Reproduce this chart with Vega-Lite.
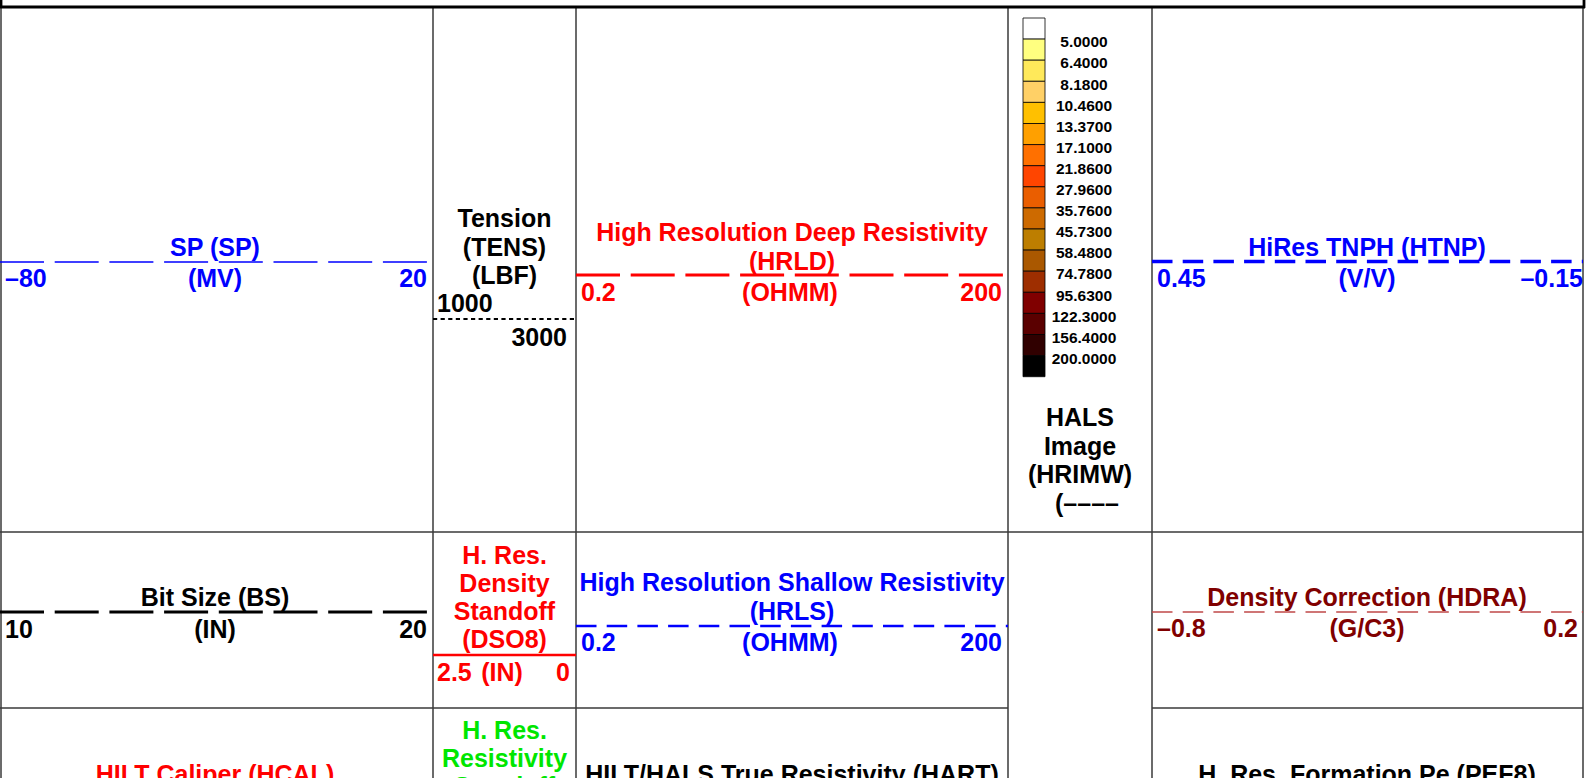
{
  "$schema": "https://vega.github.io/schema/vega-lite/v6.json",
  "width": 1596,
  "height": 778,
  "autosize": {"type": "fit", "contains": "padding"},
  "padding": 0,
  "background": "white",
  "config": {
    "view": {"stroke": null},
    "text": {"font": "Liberation Sans", "fontWeight": "bold", "fontSize": 25}
  },
  "resolve": {"scale": {"color": "independent"}},
  "datasets": {
    "grid": [
      {"x": 1, "x2": 1, "y": 0, "y2": 8, "kind": "frame"},
      {"x": 1584, "x2": 1584, "y": 0, "y2": 8, "kind": "frame"},
      {"x": 0, "x2": 1585, "y": 7, "y2": 7, "kind": "frame"},
      {"x": 1, "x2": 1, "y": 7, "y2": 778, "kind": "grid"},
      {"x": 433, "x2": 433, "y": 7, "y2": 778, "kind": "grid"},
      {"x": 576, "x2": 576, "y": 7, "y2": 778, "kind": "grid"},
      {"x": 1008, "x2": 1008, "y": 7, "y2": 778, "kind": "grid"},
      {"x": 1152, "x2": 1152, "y": 7, "y2": 778, "kind": "grid"},
      {"x": 1583, "x2": 1583, "y": 7, "y2": 778, "kind": "grid"},
      {"x": 0, "x2": 1583, "y": 532, "y2": 532, "kind": "grid"},
      {"x": 0, "x2": 1008, "y": 708, "y2": 708, "kind": "grid"},
      {"x": 1152, "x2": 1583, "y": 708, "y2": 708, "kind": "grid"}
    ],
    "curves": [
      {"curve": "SP", "x": 0, "x2": 428, "y": 262, "style": "longThin"},
      {"curve": "TENS", "x": 433, "x2": 576, "y": 319, "style": "dotted"},
      {"curve": "HRLD", "x": 576, "x2": 1004, "y": 275, "style": "longThick"},
      {"curve": "HTNP", "x": 1152, "x2": 1583, "y": 261.5, "style": "shortThick"},
      {"curve": "BS", "x": 0, "x2": 428, "y": 612, "style": "longThick"},
      {"curve": "DSO8", "x": 433, "x2": 576, "y": 655, "style": "solid"},
      {"curve": "HRLS", "x": 576, "x2": 1008, "y": 626, "style": "shortMid"},
      {"curve": "HDRA line", "x": 1152, "x2": 1583, "y": 612, "style": "shortThin"}
    ],
    "palette": [
      {"bin": 0, "top": 18, "bottom": 39.1, "label": ""},
      {"bin": 1, "top": 39.1, "bottom": 60.2, "label": "5.0000"},
      {"bin": 2, "top": 60.2, "bottom": 81.3, "label": "6.4000"},
      {"bin": 3, "top": 81.3, "bottom": 102.4, "label": "8.1800"},
      {"bin": 4, "top": 102.4, "bottom": 123.5, "label": "10.4600"},
      {"bin": 5, "top": 123.5, "bottom": 144.6, "label": "13.3700"},
      {"bin": 6, "top": 144.6, "bottom": 165.7, "label": "17.1000"},
      {"bin": 7, "top": 165.7, "bottom": 186.8, "label": "21.8600"},
      {"bin": 8, "top": 186.8, "bottom": 207.9, "label": "27.9600"},
      {"bin": 9, "top": 207.9, "bottom": 229, "label": "35.7600"},
      {"bin": 10, "top": 229, "bottom": 250.1, "label": "45.7300"},
      {"bin": 11, "top": 250.1, "bottom": 271.2, "label": "58.4800"},
      {"bin": 12, "top": 271.2, "bottom": 292.3, "label": "74.7800"},
      {"bin": 13, "top": 292.3, "bottom": 313.4, "label": "95.6300"},
      {"bin": 14, "top": 313.4, "bottom": 334.5, "label": "122.3000"},
      {"bin": 15, "top": 334.5, "bottom": 355.6, "label": "156.4000"},
      {"bin": 16, "top": 355.6, "bottom": 376.7, "label": "200.0000"}
    ],
    "labels": [
      {"text": "SP (SP)", "x": 215, "y": 256, "curve": "SP", "pos": "c"},
      {"text": "(MV)", "x": 215, "y": 287, "curve": "SP", "pos": "c"},
      {"text": "–80", "x": 5, "y": 287, "curve": "SP", "pos": "l"},
      {"text": "20", "x": 427, "y": 287, "curve": "SP", "pos": "r"},
      {"text": "Tension", "x": 504.5, "y": 227, "curve": "TENS", "pos": "c"},
      {"text": "(TENS)", "x": 504.5, "y": 255.5, "curve": "TENS", "pos": "c"},
      {"text": "(LBF)", "x": 504.5, "y": 284, "curve": "TENS", "pos": "c"},
      {"text": "1000", "x": 437, "y": 312, "curve": "TENS", "pos": "l"},
      {"text": "3000", "x": 567, "y": 346, "curve": "TENS", "pos": "r"},
      {"text": "High Resolution Deep Resistivity", "x": 792, "y": 241, "curve": "HRLD", "pos": "c"},
      {"text": "(HRLD)", "x": 792, "y": 269.5, "curve": "HRLD", "pos": "c"},
      {"text": "0.2", "x": 581, "y": 301, "curve": "HRLD", "pos": "l"},
      {"text": "(OHMM)", "x": 790, "y": 301, "curve": "HRLD", "pos": "c"},
      {"text": "200", "x": 1002, "y": 301, "curve": "HRLD", "pos": "r"},
      {"text": "HALS", "x": 1080, "y": 426, "curve": "HRIMW", "pos": "c"},
      {"text": "Image", "x": 1080, "y": 454.5, "curve": "HRIMW", "pos": "c"},
      {"text": "(HRIMW)", "x": 1080, "y": 483, "curve": "HRIMW", "pos": "c"},
      {"text": "(––––", "x": 1087, "y": 511.5, "curve": "HRIMW", "pos": "c"},
      {"text": "HiRes TNPH (HTNP)", "x": 1367, "y": 256, "curve": "HTNP", "pos": "c"},
      {"text": "(V/V)", "x": 1367, "y": 287, "curve": "HTNP", "pos": "c"},
      {"text": "0.45", "x": 1157, "y": 287, "curve": "HTNP", "pos": "l"},
      {"text": "–0.15", "x": 1583, "y": 287, "curve": "HTNP", "pos": "r"},
      {"text": "Bit Size (BS)", "x": 215, "y": 605.5, "curve": "BS", "pos": "c"},
      {"text": "(IN)", "x": 215, "y": 638, "curve": "BS", "pos": "c"},
      {"text": "10", "x": 5, "y": 638, "curve": "BS", "pos": "l"},
      {"text": "20", "x": 427, "y": 638, "curve": "BS", "pos": "r"},
      {"text": "H. Res.", "x": 504.5, "y": 564, "curve": "DSO8", "pos": "c"},
      {"text": "Density", "x": 504.5, "y": 592, "curve": "DSO8", "pos": "c"},
      {"text": "Standoff", "x": 504.5, "y": 620, "curve": "DSO8", "pos": "c"},
      {"text": "(DSO8)", "x": 504.5, "y": 648, "curve": "DSO8", "pos": "c"},
      {"text": "2.5", "x": 437, "y": 681, "curve": "DSO8", "pos": "l"},
      {"text": "(IN)", "x": 502, "y": 681, "curve": "DSO8", "pos": "c"},
      {"text": "0", "x": 570, "y": 681, "curve": "DSO8", "pos": "r"},
      {"text": "High Resolution Shallow Resistivity", "x": 792, "y": 591, "curve": "HRLS", "pos": "c"},
      {"text": "(HRLS)", "x": 792, "y": 620, "curve": "HRLS", "pos": "c"},
      {"text": "0.2", "x": 581, "y": 651, "curve": "HRLS", "pos": "l"},
      {"text": "(OHMM)", "x": 790, "y": 651, "curve": "HRLS", "pos": "c"},
      {"text": "200", "x": 1002, "y": 651, "curve": "HRLS", "pos": "r"},
      {"text": "Density Correction (HDRA)", "x": 1367, "y": 606, "curve": "HDRA", "pos": "c"},
      {"text": "–0.8", "x": 1157, "y": 637, "curve": "HDRA", "pos": "l"},
      {"text": "(G/C3)", "x": 1367, "y": 637, "curve": "HDRA", "pos": "c"},
      {"text": "0.2", "x": 1578, "y": 637, "curve": "HDRA", "pos": "r"},
      {"text": "HILT Caliper (HCAL)", "x": 215, "y": 783, "curve": "HCAL", "pos": "c"},
      {"text": "H. Res.", "x": 504.5, "y": 739, "curve": "RSO8", "pos": "c"},
      {"text": "Resistivity", "x": 504.5, "y": 767, "curve": "RSO8", "pos": "c"},
      {"text": "Standoff", "x": 504.5, "y": 795, "curve": "RSO8", "pos": "c"},
      {"text": "HILT/HALS True Resistivity (HART)", "x": 792, "y": 783, "curve": "HART", "pos": "c"},
      {"text": "H. Res. Formation Pe (PEF8)", "x": 1367, "y": 783, "curve": "PEF8", "pos": "c"}
    ]
  },
  "layer": [
    {
      "data": {"name": "grid"},
      "transform": [{"filter": "datum.kind === 'grid'"}],
      "mark": {"type": "rule", "clip": true, "color": "#3a3a3a", "strokeWidth": 1.5},
      "encoding": {
        "x": {"field": "x", "type": "quantitative", "scale": {"domain": [0, 1596], "nice": false, "zero": false}, "axis": null},
        "x2": {"field": "x2"},
        "y": {"field": "y", "type": "quantitative", "scale": {"domain": [0, 778], "nice": false, "zero": false, "reverse": true}, "axis": null},
        "y2": {"field": "y2"}
      }
    },
    {
      "data": {"name": "grid"},
      "transform": [{"filter": "datum.kind === 'frame'"}],
      "mark": {"type": "rule", "clip": true, "color": "#000000", "strokeWidth": 2.8},
      "encoding": {
        "x": {"field": "x", "type": "quantitative", "scale": {"domain": [0, 1596], "nice": false, "zero": false}, "axis": null},
        "x2": {"field": "x2"},
        "y": {"field": "y", "type": "quantitative", "scale": {"domain": [0, 778], "nice": false, "zero": false, "reverse": true}, "axis": null},
        "y2": {"field": "y2"}
      }
    },
    {
      "data": {"name": "curves"},
      "transform": [{"filter": "datum.style === 'longThin'"}],
      "mark": {"type": "rule", "clip": true, "strokeWidth": 1.3, "strokeDash": [44, 10.7]},
      "encoding": {
        "x": {"field": "x", "type": "quantitative", "scale": {"domain": [0, 1596], "nice": false, "zero": false}, "axis": null},
        "x2": {"field": "x2"},
        "y": {"field": "y", "type": "quantitative", "scale": {"domain": [0, 778], "nice": false, "zero": false, "reverse": true}, "axis": null},
        "color": {"field": "curve", "type": "nominal", "scale": {"domain": ["SP", "TENS", "HRLD", "HTNP", "BS", "DSO8", "HRLS", "HDRA line"], "range": ["#0000ff", "#000000", "#ff0000", "#0000ff", "#000000", "#ff0000", "#0000ff", "#c04848"]}, "legend": null}
      }
    },
    {
      "data": {"name": "curves"},
      "transform": [{"filter": "datum.style === 'longThick'"}],
      "mark": {"type": "rule", "clip": true, "strokeWidth": 2.8, "strokeDash": [44, 10.7]},
      "encoding": {
        "x": {"field": "x", "type": "quantitative", "scale": {"domain": [0, 1596], "nice": false, "zero": false}, "axis": null},
        "x2": {"field": "x2"},
        "y": {"field": "y", "type": "quantitative", "scale": {"domain": [0, 778], "nice": false, "zero": false, "reverse": true}, "axis": null},
        "color": {"field": "curve", "type": "nominal", "scale": {"domain": ["SP", "TENS", "HRLD", "HTNP", "BS", "DSO8", "HRLS", "HDRA line"], "range": ["#0000ff", "#000000", "#ff0000", "#0000ff", "#000000", "#ff0000", "#0000ff", "#c04848"]}, "legend": null}
      }
    },
    {
      "data": {"name": "curves"},
      "transform": [{"filter": "datum.style === 'shortThick'"}],
      "mark": {"type": "rule", "clip": true, "strokeWidth": 3.4, "strokeDash": [20.5, 10.2]},
      "encoding": {
        "x": {"field": "x", "type": "quantitative", "scale": {"domain": [0, 1596], "nice": false, "zero": false}, "axis": null},
        "x2": {"field": "x2"},
        "y": {"field": "y", "type": "quantitative", "scale": {"domain": [0, 778], "nice": false, "zero": false, "reverse": true}, "axis": null},
        "color": {"field": "curve", "type": "nominal", "scale": {"domain": ["SP", "TENS", "HRLD", "HTNP", "BS", "DSO8", "HRLS", "HDRA line"], "range": ["#0000ff", "#000000", "#ff0000", "#0000ff", "#000000", "#ff0000", "#0000ff", "#c04848"]}, "legend": null}
      }
    },
    {
      "data": {"name": "curves"},
      "transform": [{"filter": "datum.style === 'shortMid'"}],
      "mark": {"type": "rule", "clip": true, "strokeWidth": 2.6, "strokeDash": [20.5, 10.2]},
      "encoding": {
        "x": {"field": "x", "type": "quantitative", "scale": {"domain": [0, 1596], "nice": false, "zero": false}, "axis": null},
        "x2": {"field": "x2"},
        "y": {"field": "y", "type": "quantitative", "scale": {"domain": [0, 778], "nice": false, "zero": false, "reverse": true}, "axis": null},
        "color": {"field": "curve", "type": "nominal", "scale": {"domain": ["SP", "TENS", "HRLD", "HTNP", "BS", "DSO8", "HRLS", "HDRA line"], "range": ["#0000ff", "#000000", "#ff0000", "#0000ff", "#000000", "#ff0000", "#0000ff", "#c04848"]}, "legend": null}
      }
    },
    {
      "data": {"name": "curves"},
      "transform": [{"filter": "datum.style === 'shortThin'"}],
      "mark": {"type": "rule", "clip": true, "strokeWidth": 1.4, "strokeDash": [20.5, 10.2]},
      "encoding": {
        "x": {"field": "x", "type": "quantitative", "scale": {"domain": [0, 1596], "nice": false, "zero": false}, "axis": null},
        "x2": {"field": "x2"},
        "y": {"field": "y", "type": "quantitative", "scale": {"domain": [0, 778], "nice": false, "zero": false, "reverse": true}, "axis": null},
        "color": {"field": "curve", "type": "nominal", "scale": {"domain": ["SP", "TENS", "HRLD", "HTNP", "BS", "DSO8", "HRLS", "HDRA line"], "range": ["#0000ff", "#000000", "#ff0000", "#0000ff", "#000000", "#ff0000", "#0000ff", "#c04848"]}, "legend": null}
      }
    },
    {
      "data": {"name": "curves"},
      "transform": [{"filter": "datum.style === 'dotted'"}],
      "mark": {"type": "rule", "clip": true, "strokeWidth": 2.2, "strokeDash": [4.2, 3.4]},
      "encoding": {
        "x": {"field": "x", "type": "quantitative", "scale": {"domain": [0, 1596], "nice": false, "zero": false}, "axis": null},
        "x2": {"field": "x2"},
        "y": {"field": "y", "type": "quantitative", "scale": {"domain": [0, 778], "nice": false, "zero": false, "reverse": true}, "axis": null},
        "color": {"field": "curve", "type": "nominal", "scale": {"domain": ["SP", "TENS", "HRLD", "HTNP", "BS", "DSO8", "HRLS", "HDRA line"], "range": ["#0000ff", "#000000", "#ff0000", "#0000ff", "#000000", "#ff0000", "#0000ff", "#c04848"]}, "legend": null}
      }
    },
    {
      "data": {"name": "curves"},
      "transform": [{"filter": "datum.style === 'solid'"}],
      "mark": {"type": "rule", "clip": true, "strokeWidth": 2.6},
      "encoding": {
        "x": {"field": "x", "type": "quantitative", "scale": {"domain": [0, 1596], "nice": false, "zero": false}, "axis": null},
        "x2": {"field": "x2"},
        "y": {"field": "y", "type": "quantitative", "scale": {"domain": [0, 778], "nice": false, "zero": false, "reverse": true}, "axis": null},
        "color": {"field": "curve", "type": "nominal", "scale": {"domain": ["SP", "TENS", "HRLD", "HTNP", "BS", "DSO8", "HRLS", "HDRA line"], "range": ["#0000ff", "#000000", "#ff0000", "#0000ff", "#000000", "#ff0000", "#0000ff", "#c04848"]}, "legend": null}
      }
    },
    {
      "data": {"name": "palette"},
      "mark": {"type": "rect", "stroke": "#000000", "strokeWidth": 0.8, "clip": true},
      "encoding": {
        "x": {"datum": 1023, "type": "quantitative", "scale": {"domain": [0, 1596], "nice": false, "zero": false}, "axis": null},
        "x2": {"datum": 1045},
        "y": {"field": "top", "type": "quantitative", "scale": {"domain": [0, 778], "nice": false, "zero": false, "reverse": true}, "axis": null},
        "y2": {"field": "bottom"},
        "color": {"field": "bin", "type": "ordinal", "scale": {"domain": [0, 1, 2, 3, 4, 5, 6, 7, 8, 9, 10, 11, 12, 13, 14, 15, 16], "range": ["#ffffff", "#ffff80", "#ffe95a", "#ffd066", "#ffc000", "#ffa000", "#ff7000", "#ff4500", "#ea5e00", "#cd6a00", "#bd7e00", "#aa5800", "#9e2e00", "#800000", "#5a0000", "#300000", "#000000"]}, "legend": null}
      }
    },
    {
      "data": {"name": "palette"},
      "mark": {"type": "text", "align": "center", "baseline": "alphabetic", "fontSize": 15.5, "dy": 8.2, "color": "#000000", "clip": true},
      "encoding": {
        "x": {"datum": 1084, "type": "quantitative", "scale": {"domain": [0, 1596], "nice": false, "zero": false}, "axis": null},
        "y": {"field": "top", "type": "quantitative", "scale": {"domain": [0, 778], "nice": false, "zero": false, "reverse": true}, "axis": null},
        "text": {"field": "label"}
      }
    },
    {
      "data": {"name": "labels"},
      "transform": [{"filter": "datum.pos === 'c'"}],
      "mark": {"type": "text", "align": "center", "baseline": "alphabetic", "clip": true},
      "encoding": {
        "x": {"field": "x", "type": "quantitative", "scale": {"domain": [0, 1596], "nice": false, "zero": false}, "axis": null},
        "y": {"field": "y", "type": "quantitative", "scale": {"domain": [0, 778], "nice": false, "zero": false, "reverse": true}, "axis": null},
        "text": {"field": "text"},
        "color": {"field": "curve", "type": "nominal", "scale": {"domain": ["SP", "TENS", "HRLD", "HRIMW", "HTNP", "BS", "DSO8", "HRLS", "HDRA", "HCAL", "RSO8", "HART", "PEF8"], "range": ["#0000ff", "#000000", "#ff0000", "#000000", "#0000ff", "#000000", "#ff0000", "#0000ff", "#800000", "#ff0000", "#00e600", "#000000", "#000000"]}, "legend": null}
      }
    },
    {
      "data": {"name": "labels"},
      "transform": [{"filter": "datum.pos === 'l'"}],
      "mark": {"type": "text", "align": "left", "baseline": "alphabetic", "clip": true},
      "encoding": {
        "x": {"field": "x", "type": "quantitative", "scale": {"domain": [0, 1596], "nice": false, "zero": false}, "axis": null},
        "y": {"field": "y", "type": "quantitative", "scale": {"domain": [0, 778], "nice": false, "zero": false, "reverse": true}, "axis": null},
        "text": {"field": "text"},
        "color": {"field": "curve", "type": "nominal", "scale": {"domain": ["SP", "TENS", "HRLD", "HRIMW", "HTNP", "BS", "DSO8", "HRLS", "HDRA", "HCAL", "RSO8", "HART", "PEF8"], "range": ["#0000ff", "#000000", "#ff0000", "#000000", "#0000ff", "#000000", "#ff0000", "#0000ff", "#800000", "#ff0000", "#00e600", "#000000", "#000000"]}, "legend": null}
      }
    },
    {
      "data": {"name": "labels"},
      "transform": [{"filter": "datum.pos === 'r'"}],
      "mark": {"type": "text", "align": "right", "baseline": "alphabetic", "clip": true},
      "encoding": {
        "x": {"field": "x", "type": "quantitative", "scale": {"domain": [0, 1596], "nice": false, "zero": false}, "axis": null},
        "y": {"field": "y", "type": "quantitative", "scale": {"domain": [0, 778], "nice": false, "zero": false, "reverse": true}, "axis": null},
        "text": {"field": "text"},
        "color": {"field": "curve", "type": "nominal", "scale": {"domain": ["SP", "TENS", "HRLD", "HRIMW", "HTNP", "BS", "DSO8", "HRLS", "HDRA", "HCAL", "RSO8", "HART", "PEF8"], "range": ["#0000ff", "#000000", "#ff0000", "#000000", "#0000ff", "#000000", "#ff0000", "#0000ff", "#800000", "#ff0000", "#00e600", "#000000", "#000000"]}, "legend": null}
      }
    }
  ]
}
